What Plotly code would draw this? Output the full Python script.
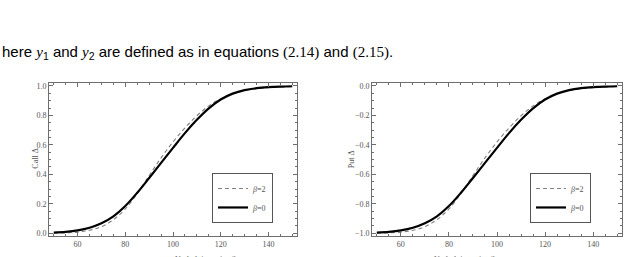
import plotly.graph_objects as go

# ---- data ----
price = [50, 55, 60, 65, 70, 75, 80, 85, 90, 95, 100, 105, 110, 115, 120, 125, 130, 135, 140, 145, 150]

call_beta0 = [0.005, 0.010, 0.020, 0.038, 0.068, 0.115, 0.185, 0.275, 0.375, 0.478, 0.580, 0.680, 0.770, 0.848, 0.908, 0.948, 0.972, 0.985, 0.992, 0.996, 0.998]
call_beta2 = [0.001, 0.003, 0.008, 0.020, 0.045, 0.092, 0.165, 0.270, 0.392, 0.512, 0.620, 0.715, 0.798, 0.865, 0.913, 0.947, 0.968, 0.981, 0.989, 0.993, 0.996]

put_beta0 = [-0.995, -0.990, -0.980, -0.962, -0.932, -0.885, -0.815, -0.725, -0.625, -0.522, -0.420, -0.320, -0.230, -0.152, -0.092, -0.052, -0.028, -0.015, -0.008, -0.004, -0.002]
put_beta2 = [-0.999, -0.997, -0.992, -0.980, -0.955, -0.908, -0.835, -0.730, -0.608, -0.488, -0.380, -0.285, -0.202, -0.135, -0.087, -0.053, -0.032, -0.019, -0.011, -0.007, -0.004]

x_ticks = [60, 80, 100, 120, 140]
call_ticks = [0.0, 0.2, 0.4, 0.6, 0.8, 1.0]
put_ticks = [-1.0, -0.8, -0.6, -0.4, -0.2, 0.0]

W, H = 639, 257
SERIF = "Liberation Serif, Times New Roman, serif"
SANS = "Liberation Sans, Arial, sans-serif"

fig = go.Figure()

dash_style = dict(color="#808080", width=1.1, dash="4px,3px")
solid_style = dict(color="black", width=2.2)

fig.add_trace(go.Scatter(x=price, y=call_beta2, mode="lines", line=dict(shape="spline", **dash_style),
                         name="<i>β</i>=2", xaxis="x", yaxis="y", legend="legend"))
fig.add_trace(go.Scatter(x=price, y=call_beta0, mode="lines", line=dict(shape="spline", **solid_style),
                         name="<i>β</i>=0", xaxis="x", yaxis="y", legend="legend"))
fig.add_trace(go.Scatter(x=price, y=put_beta2, mode="lines", line=dict(shape="spline", **dash_style),
                         name="<i>β</i>=2", xaxis="x2", yaxis="y2", legend="legend2"))
fig.add_trace(go.Scatter(x=price, y=put_beta0, mode="lines", line=dict(shape="spline", **solid_style),
                         name="<i>β</i>=0", xaxis="x2", yaxis="y2", legend="legend2"))

axis_common = dict(
    showgrid=False, zeroline=False, showline=True, linecolor="#6e6e6e", linewidth=1,
    mirror="ticks", ticks="inside", ticklen=4, tickcolor="#6e6e6e", tickwidth=1,
    tickfont=dict(family=SERIF, size=8, color="#555555"),
    minor=dict(ticks="inside", ticklen=2, tickcolor="#6e6e6e", showgrid=False),
)

ydom = [19 / H, 174 / H]
legend_common = dict(xanchor="left", yanchor="top", bordercolor="#555555", borderwidth=1,
                     bgcolor="white", font=dict(family=SERIF, size=8, color="#555555"),
                     itemwidth=30, tracegroupgap=0)
fig.update_layout(
    width=W, height=H, margin=dict(l=0, r=0, t=0, b=0),
    paper_bgcolor="white", plot_bgcolor="white",
    xaxis=dict(domain=[49 / W, 297 / W], range=[48, 152], tickvals=x_ticks,
               minor_dtick=5, anchor="y", **axis_common),
    yaxis=dict(domain=ydom, range=[-0.02, 1.02], tickvals=call_ticks, tickformat=".1f",
               minor_dtick=0.05, anchor="x", **axis_common),
    xaxis2=dict(domain=[372 / W, 622 / W], range=[48, 152], tickvals=x_ticks,
                minor_dtick=5, anchor="y2", **axis_common),
    yaxis2=dict(domain=ydom, range=[-1.02, 0.02], tickvals=put_ticks, tickformat=".1f",
                minor_dtick=0.05, anchor="x2", **axis_common),
    legend=dict(x=212 / W, y=1 - 174 / H, **legend_common),
    legend2=dict(x=530 / W, y=1 - 174 / H, **legend_common),
    showlegend=True,
)

annotations = [
    dict(text="here <i style='font-family:Liberation Serif'>y</i><sub>1</sub> and "
              "<i style='font-family:Liberation Serif'>y</i><sub>2</sub> are defined as in equations "
              "<span style='font-family:Liberation Serif'>(2.14)</span> and "
              "<span style='font-family:Liberation Serif'>(2.15)</span>.",
         x=0, y=1 - 52 / H, xref="paper", yref="paper", xanchor="left", yanchor="middle",
         showarrow=False, font=dict(family=SANS, size=15, color="black")),
    dict(text="Call Δ", x=29 / W, y=1 - 160 / H, xref="paper", yref="paper", textangle=-90,
         showarrow=False, font=dict(family=SERIF, size=8, color="#555555")),
    dict(text="Put Δ", x=351 / W, y=1 - 160 / H, xref="paper", yref="paper", textangle=-90,
         showarrow=False, font=dict(family=SERIF, size=8, color="#555555")),
    dict(text="Underlying price S", x=173 / W, y=1 - 262 / H, xref="paper", yref="paper",
         yanchor="middle", showarrow=False, font=dict(family=SERIF, size=8, color="#555555")),
    dict(text="Underlying price S", x=497 / W, y=1 - 262 / H, xref="paper", yref="paper",
         yanchor="middle", showarrow=False, font=dict(family=SERIF, size=8, color="#555555")),
]
fig.update_layout(annotations=annotations)

fig.write_html("out.html")
